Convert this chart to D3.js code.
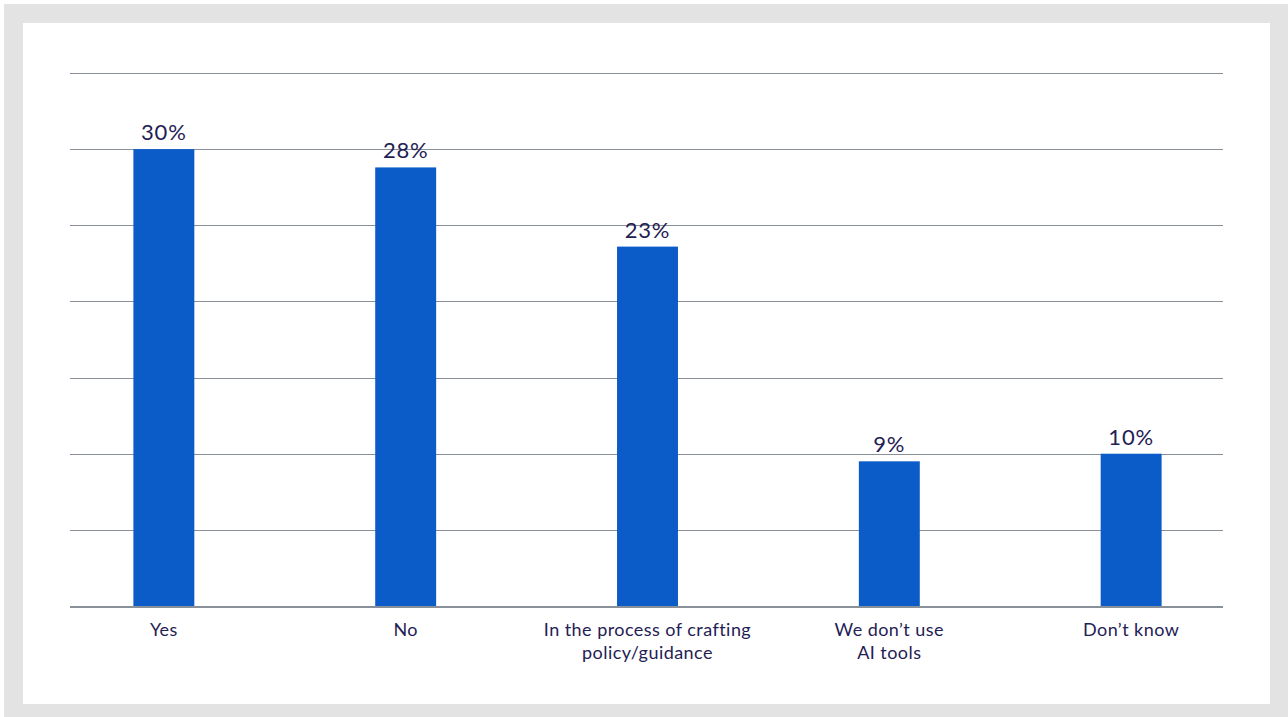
<!DOCTYPE html>
<html>
<head>
<meta charset="utf-8">
<script src="https://cdn.jsdelivr.net/npm/d3@7"></script>
<style>
  body { margin: 0; background: #fff; }
  svg { display: block; font-family: Lato, "Noto Sans", sans-serif; }
</style>
</head>
<body>
<svg width="1288" height="717"></svg>
<script>
const categories = ["Yes", "No", "In the process of crafting\npolicy/guidance", "We don\u2019t use\nAI tools", "Don\u2019t know"];
const values = [30, 28.8, 23.6, 9.5, 10];
const valueLabels = ["30%", "28%", "23%", "9%", "10%"];
const gridTicks = [0, 5, 10, 15, 20, 25, 30, 35];

const svg = d3.select("svg");

// frame
svg.append('rect').attr('x', 4).attr('y', 4).attr('width', 1284).attr('height', 713).attr('fill', '#e3e3e3');
svg.append('rect').attr('x', 23).attr('y', 23).attr('width', 1247).attr('height', 681).attr('fill', '#fff');

const x = d3.scaleBand()
    .domain(categories)
    .range([71, 1224])
    .paddingInner(0.748)
    .paddingOuter(0.258);

const y = d3.scaleLinear().domain([0, 35]).range([606, 73]);

const g = svg.append('g');

// gridlines
g.selectAll('line.grid').data(gridTicks.filter(d => d > 0))
  .enter().append('line')
    .attr('class', 'grid')
    .attr('x1', 70).attr('x2', 1223)
    .attr('y1', d => Math.round(y(d)) + 0.5).attr('y2', d => Math.round(y(d)) + 0.5)
    .attr('stroke', '#8a9099').attr('stroke-width', 1);

// bars
g.selectAll('rect.bar').data(values)
  .enter().append('rect')
    .attr('class', 'bar')
    .attr('x', (d, i) => x(categories[i]))
    .attr('width', x.bandwidth())
    .attr('y', d => y(d))
    .attr('height', d => y(0) - y(d))
    .attr('fill', '#0b5cc8');

// baseline
g.append('line')
    .attr('x1', 70).attr('x2', 1223)
    .attr('y1', y(0) + 1).attr('y2', y(0) + 1)
    .attr('stroke', '#8a9099').attr('stroke-width', 2);

// value labels
g.selectAll('text.val').data(values)
  .enter().append('text')
    .attr('class', 'val')
    .attr('x', (d, i) => x(categories[i]) + x.bandwidth() / 2)
    .attr('y', d => y(d) - 9)
    .attr('text-anchor', 'middle')
    .attr('font-size', 22)
    .attr('letter-spacing', 0.8)
    .attr('fill', '#1f2155')
    .text((d, i) => valueLabels[i]);

// category labels
const xAxis = g.append('g');
categories.forEach(c => {
  const t = xAxis.append('text')
    .attr('x', x(c) + x.bandwidth() / 2)
    .attr('y', 636)
    .attr('text-anchor', 'middle')
    .attr('font-size', 18)
    .attr('letter-spacing', 0.45)
    .attr('fill', '#1f2155');
  c.split('\n').forEach((line, i) => {
    t.append('tspan')
      .attr('x', x(c) + x.bandwidth() / 2)
      .attr('dy', i === 0 ? 0 : 23)
      .text(line);
  });
});
</script>
</body>
</html>
